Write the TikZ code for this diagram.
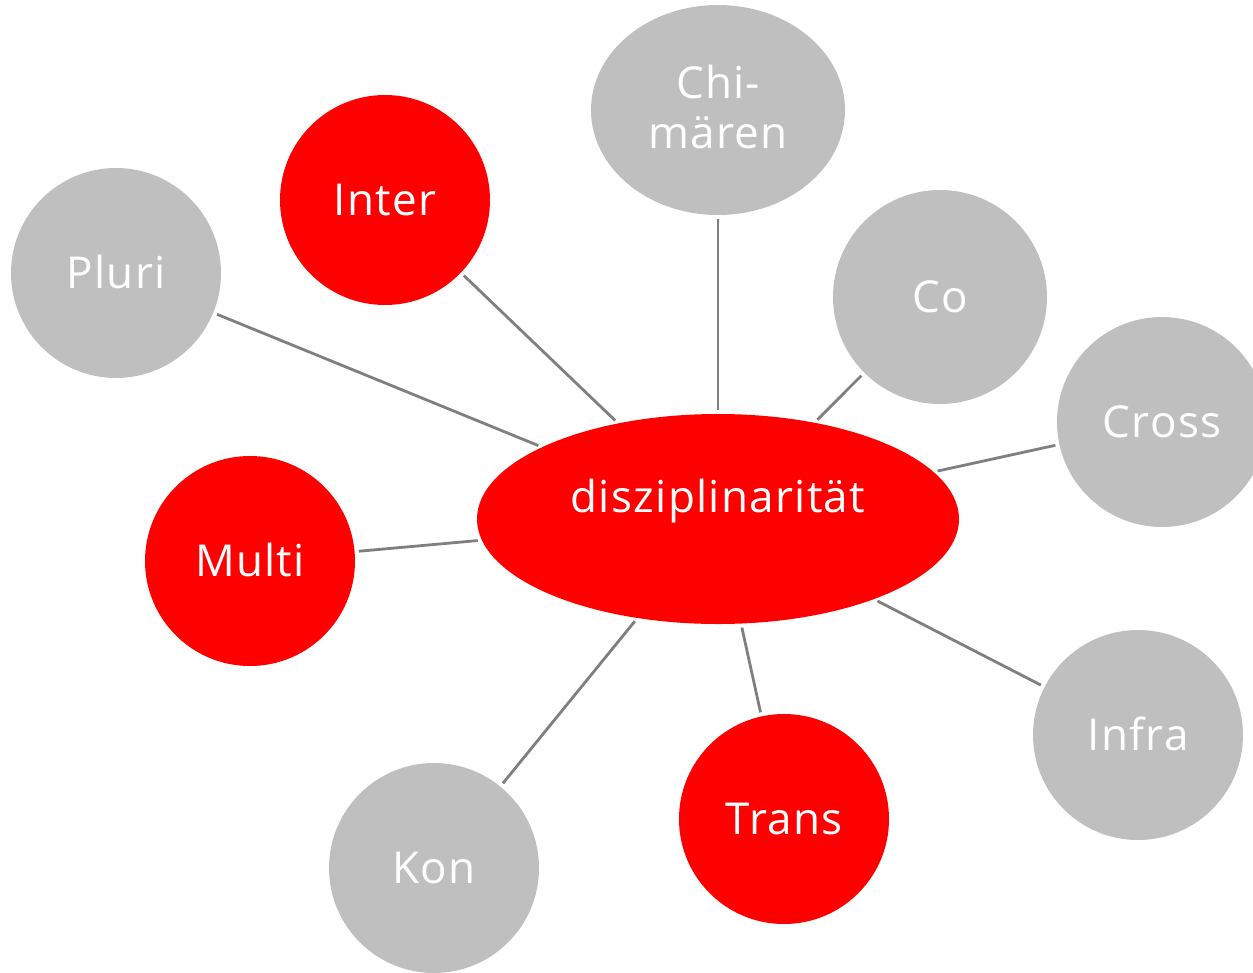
\documentclass[tikz,border=0pt]{standalone}
\usepackage{fontspec}
\setmainfont[LetterSpace=3]{Open Sans}
\usetikzlibrary{shapes.geometric}
\definecolor{bubblered}{HTML}{FF0000}
\definecolor{bubblegray}{HTML}{BFBFBF}
\definecolor{linkgray}{HTML}{7F7F7F}
\tikzset{
  bub/.style={circle, minimum size=210pt, inner sep=0pt, text=white,
    font=\fontsize{44}{50}\selectfont, text height=31pt, text depth=0pt},
  redbub/.style={bub, fill=bubblered},
  graybub/.style={bub, fill=bubblegray},
  link/.style={draw=linkgray, line width=2.8pt, shorten <=4pt, shorten >=4pt},
  lbl/.style={text=white, font=\fontsize{44}{50}\selectfont, inner sep=0pt, text height=31pt, text depth=0pt}
}
\begin{document}
\begin{tikzpicture}[x=1pt,y=-1pt]
\useasboundingbox (0,0) rectangle (1253,972);
\clip (0,0) rectangle (1253,972);
\node[ellipse, fill=bubblered, minimum width=482pt, minimum height=210pt, inner sep=0pt] (center) at (718,519) {};
\node[lbl] (centertext) at (718,497) {disziplinarität};
\node[graybub] (pluri) at (116,273) {Pluri};
\node[redbub] (inter) at (385,200) {Inter};
\node[ellipse, fill=bubblegray, minimum width=254pt, minimum height=210pt, inner sep=0pt] (chim) at (718,110) {};
\node[lbl, align=center, text height=81pt] (chimtext) at (718,108) {Chi-\\mären};
\node[graybub, minimum size=214pt] (co) at (940,297) {Co};
\node[graybub] (cross) at (1162,422) {Cross};
\node[redbub] (multi) at (250,561) {Multi};
\node[graybub] (infra) at (1138,735) {Infra};
\node[redbub] (trans) at (784,819) {Trans};
\node[graybub] (kon) at (434,868) {Kon};
\draw[link] (pluri) -- (center);
\draw[link] (inter) -- (center);
\draw[link] (chim) -- (center);
\draw[link] (co) -- (center);
\draw[link] (cross) -- (center);
\draw[link] (multi) -- (center);
\draw[link] (infra) -- (center);
\draw[link] (trans) -- (center);
\draw[link] (kon) -- (center);
\end{tikzpicture}
\end{document}
